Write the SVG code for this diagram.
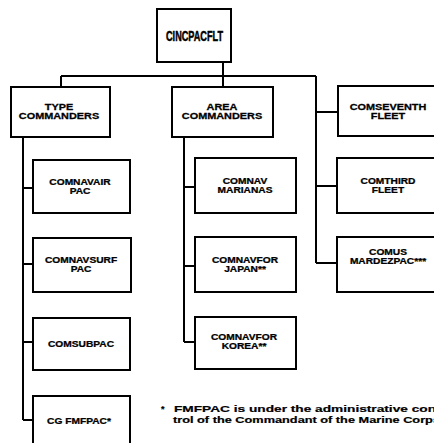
<svg xmlns="http://www.w3.org/2000/svg" width="434" height="443" viewBox="0 0 434 443">
<style>
rect.box{fill:#fff;stroke:#000;stroke-width:2}
.lbl{font-family:"Liberation Sans",Arial,sans-serif;font-weight:bold;font-size:8.5px;text-anchor:middle;fill:#000;stroke:#000;stroke-width:0.25}
.top{font-family:"Liberation Sans",Arial,sans-serif;font-weight:bold;font-size:15px;text-anchor:middle;fill:#000;stroke:#000;stroke-width:0.5}
.note{font-family:"Liberation Sans",Arial,sans-serif;font-weight:bold;font-size:9px;fill:#000;stroke:#000;stroke-width:0.2}
#connectors path{fill:none;stroke:#000;stroke-width:2}
</style>
<rect width="434" height="443" fill="#fff"/>
<g id="connectors">
<path d="M223 62V76M61 76H316M61 76V87M223 76V87M316 76V263M316 112H338M316 186H337M316 263H337"/>
<path d="M23 137V420M23 188H33M23 264H33M23 342H33M23 420H33"/>
<path d="M184 137V342M184 187H195M184 266H195M184 342H195"/>
</g>
<g id="cincpacflt"><rect class="box" x="157" y="9" width="74" height="53"/><text class="top" x="194.5" y="41" textLength="57" lengthAdjust="spacingAndGlyphs">CINCPACFLT</text></g>
<g id="type"><rect class="box" x="11" y="87" width="99" height="50"/><text class="lbl" transform="translate(59 0) scale(1.28 1)"><tspan x="0" y="110">TYPE</tspan><tspan x="0" y="119.5">COMMANDERS</tspan></text></g>
<g id="area"><rect class="box" x="172" y="87" width="101" height="50"/><text class="lbl" transform="translate(222 0) scale(1.28 1)"><tspan x="0" y="110">AREA</tspan><tspan x="0" y="119.5">COMMANDERS</tspan></text></g>
<g id="comseventh"><rect class="box" x="338" y="86" width="110" height="50"/><text class="lbl" transform="translate(388 0) scale(1.28 1)"><tspan x="0" y="110">COMSEVENTH</tspan><tspan x="0" y="119.5">FLEET</tspan></text></g>
<g id="comnavair"><rect class="box" x="33" y="160" width="97" height="53"/><text class="lbl" transform="translate(80 0) scale(1.2 1)"><tspan x="0" y="185.5">COMNAVAIR</tspan><tspan x="0" y="194.5">PAC</tspan></text></g>
<g id="comnavsurf"><rect class="box" x="33" y="238" width="98" height="54"/><text class="lbl" transform="translate(81 0) scale(1.2 1)"><tspan x="0" y="263">COMNAVSURF</tspan><tspan x="0" y="272">PAC</tspan></text></g>
<g id="comsubpac"><rect class="box" x="33" y="318" width="97" height="52"/><text class="lbl" transform="translate(81 0) scale(1.2 1)"><tspan x="0" y="347">COMSUBPAC</tspan></text></g>
<g id="cgfmfpac"><rect class="box" x="33" y="396" width="97" height="60"/><text class="lbl" transform="translate(79 0) scale(1.2 1)"><tspan x="0" y="424">CG FMFPAC*</tspan></text></g>
<g id="comnavmarianas"><rect class="box" x="195" y="158" width="101" height="55"/><text class="lbl" transform="translate(245 0) scale(1.2 1)"><tspan x="0" y="184.5">COMNAV</tspan><tspan x="0" y="193.5">MARIANAS</tspan></text></g>
<g id="comnavforjapan"><rect class="box" x="195" y="237" width="101" height="55"/><text class="lbl" transform="translate(245 0) scale(1.2 1)"><tspan x="0" y="263">COMNAVFOR</tspan><tspan x="0" y="272">JAPAN**</tspan></text></g>
<g id="comnavforkorea"><rect class="box" x="195" y="317" width="101" height="52"/><text class="lbl" transform="translate(244 0) scale(1.2 1)"><tspan x="0" y="340.5">COMNAVFOR</tspan><tspan x="0" y="349.5">KOREA**</tspan></text></g>
<g id="comthird"><rect class="box" x="337" y="158" width="110" height="55"/><text class="lbl" transform="translate(388 0) scale(1.2 1)"><tspan x="0" y="184">COMTHIRD</tspan><tspan x="0" y="193">FLEET</tspan></text></g>
<g id="comusmardezpac"><rect class="box" x="337" y="237" width="110" height="55"/><text class="lbl" transform="translate(388 0) scale(1.2 1)"><tspan x="0" y="255.5">COMUS</tspan><tspan x="0" y="264.5">MARDEZPAC***</tspan></text></g>
<g id="footnote">
<text class="note" x="161" y="412">*</text>
<text class="note" x="174" y="412" textLength="262" lengthAdjust="spacingAndGlyphs">FMFPAC is under the administrative con</text>
<text class="note" x="173" y="422.5" textLength="267" lengthAdjust="spacingAndGlyphs">trol of the Commandant of the Marine Corps</text>
</g>
</svg>
